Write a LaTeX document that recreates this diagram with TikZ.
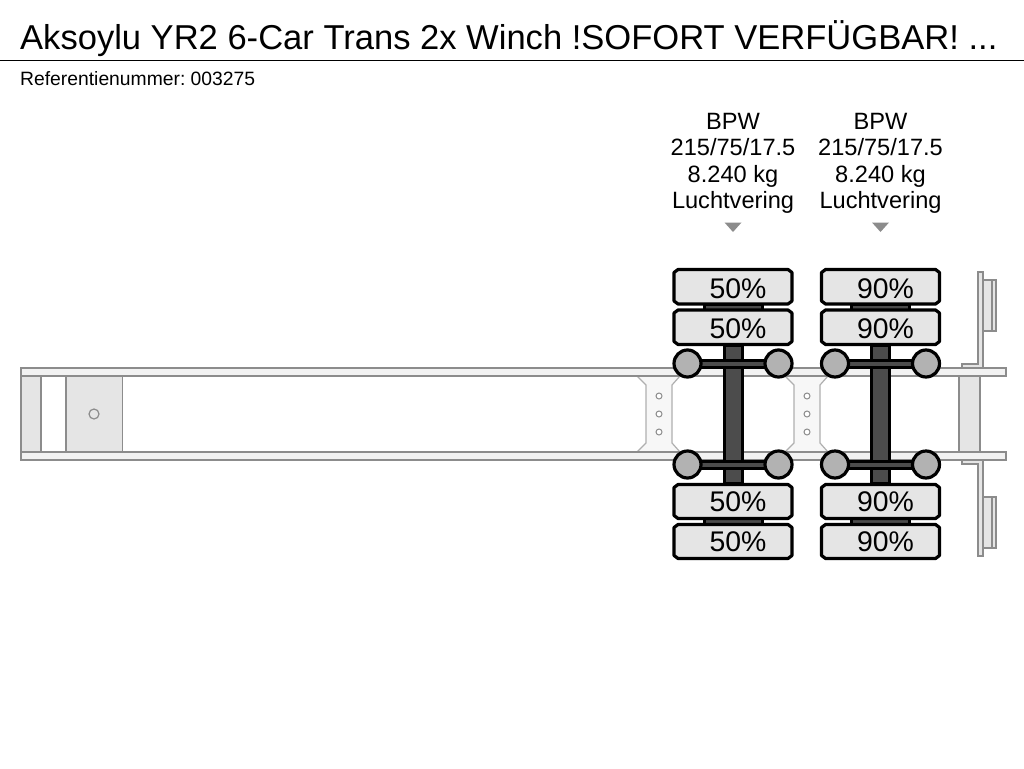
\documentclass[tikz,border=0pt]{standalone}
\usepackage{fontspec}
\setmainfont{Liberation Sans}
\frenchspacing
\definecolor{framegray}{gray}{0.55}
\definecolor{partfill}{gray}{0.9}
\definecolor{railfill}{gray}{0.95}
\definecolor{axlefill}{gray}{0.3}
\definecolor{hubfill}{gray}{0.7}
\tikzset{
	part/.style={draw=framegray, line width=1.6, fill=partfill},
	rail/.style={draw=framegray, line width=1.6, fill=railfill},
	plate/.style={draw=framegray!70, line width=1.2, fill=railfill!60},
	hole/.style={draw=framegray, line width=1, fill=white},
	axlebar/.style={draw=black, line width=3, fill=axlefill},
	hub/.style={draw=black, line width=3.2, fill=hubfill},
	tyre/.style={draw=black, line width=3.2, fill=partfill, line join=round},
	loadtext/.style={font=\fontsize{28.4}{28}\selectfont, inner sep=0},
	axletext/.style={font=\fontsize{23.6}{26.5}\selectfont, align=center, inner sep=0},
	marker/.style={fill=framegray, draw=none}
}
\def\tyrebox(#1,#2,#3){\draw[tyre] (#1-59,#2+3) -- (#1-55,#2) -- (#1+55,#2) -- (#1+59,#2+3) -- (#1+59,#3-3) -- (#1+55,#3) -- (#1-55,#3) -- (#1-59,#3-3) -- cycle;}
\def\gusset(#1){
	\draw[plate] (#1-22,376) -- (#1-13,385) -- (#1-13,443) -- (#1-22,452) -- (#1+21,452) -- (#1+13,443) -- (#1+13,385) -- (#1+21,376) -- cycle;
	\draw[hole] (#1,396) circle (3);
	\draw[hole] (#1,414) circle (3);
	\draw[hole] (#1,432) circle (3);
}
\def\axle(#1)(#2){
	\draw[axlebar] (#1-9,345) rectangle (#1+9,483);
	\draw[axlebar] (#1-45,360) rectangle (#1+45,367);
	\draw[axlebar] (#1-45,461) rectangle (#1+45,468);
	\draw[hub] (#1-45.5,363.5) circle (13.5);
	\draw[hub] (#1+45.5,363.5) circle (13.5);
	\draw[hub] (#1-45.5,464.5) circle (13.5);
	\draw[hub] (#1+45.5,464.5) circle (13.5);
	\draw[axlebar] (#1-29,304) rectangle (#1+29,310);
	\draw[axlebar] (#1-29,518) rectangle (#1+29,524);
	\tyrebox(#1,269.5,304)
	\tyrebox(#1,310,344.5)
	\tyrebox(#1,484.5,518.5)
	\tyrebox(#1,524.5,558.5)
	\node[loadtext] at (#1+5,288.5) {#2\%};
	\node[loadtext] at (#1+5,328.5) {#2\%};
	\node[loadtext] at (#1+5,501.5) {#2\%};
	\node[loadtext] at (#1+5,541.5) {#2\%};
}
\begin{document}
\begin{tikzpicture}[x=1pt,y=-1pt]
	\useasboundingbox (0,0) rectangle (1024,768);
	%%%%% HEADER %%%%%
	\node[anchor=base west, inner sep=0, font=\fontsize{34.55}{34.7}\selectfont] (title) at (20,49) {Aksoylu YR2 6-Car Trans 2x Winch !SOFORT VERFÜGBAR! ...};
	\draw[line width=1] (0,60.5) -- (1024,60.5);
	\node[anchor=base west, inner sep=0, font=\fontsize{19.3}{20}\selectfont] (refnumber) at (20,85) {Referentienummer: 003275};

	%%%%% FRAME %%%%%
	\draw[part] (21,376) rectangle (41,452);
	\draw[part] (66,376) rectangle (122.5,452);
	\draw[hole, fill=none, line width=1.2] (94,414) circle (5);
	\draw[part] (959,376) rectangle (980,452);
	\gusset(659)
	\gusset(807)
	\draw[rail] (21,368) rectangle (1006,376);
	\draw[rail] (21,452) rectangle (1006,460);

	%%%%% REAR BRACKETS %%%%%
	\draw[part] (983,280) rectangle (996,331);
	\draw[part] (983,280) rectangle (992,331);
	\draw[part] (978,272) -- (983,272) -- (983,368) -- (962,368) -- (962,364) -- (978,364) -- cycle;
	\draw[part] (983,497) rectangle (996,548);
	\draw[part] (983,497) rectangle (992,548);
	\draw[part] (978,556) -- (983,556) -- (983,460) -- (962,460) -- (962,464) -- (978,464) -- cycle;

	%%%%% AXLES %%%%%
	\axle(733)(50)
	\axle(880.5)(90)

	%%%%% LABELS %%%%%
	\node[axletext, anchor=north] (axleone) at (733,113) {BPW\\215/75/17.5\\8.240 kg\\Luchtvering};
	\node[axletext, anchor=north] (axletwo) at (880.5,113) {BPW\\215/75/17.5\\8.240 kg\\Luchtvering};
	\fill[marker] (724.5,222.5) -- (741.5,222.5) -- (733,232) -- cycle;
	\fill[marker] (872,222.5) -- (889,222.5) -- (880.5,232) -- cycle;
\end{tikzpicture}
\end{document}
